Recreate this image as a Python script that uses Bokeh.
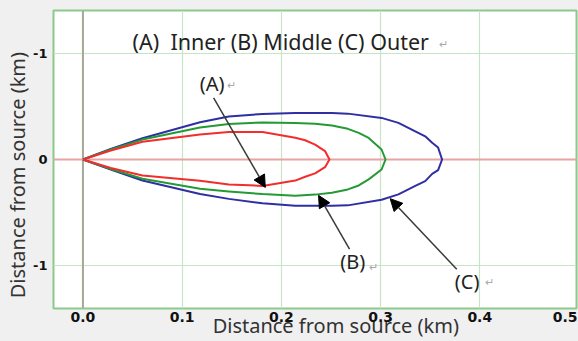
from bokeh.plotting import figure
from bokeh.models import Label, Arrow, NormalHead, Range1d, FixedTicker, ColumnDataSource
from bokeh.embed import file_html
from bokeh.resources import INLINE
from bokeh.core.templates import get_env

# ---- data (km) ----
x_grid = [0.0, 0.1, 0.2, 0.3, 0.4, 0.5]
x_tick_labels = ["0.0", "0.1", "0.2", "0.3", "0.4", "0.5"]
# where each x label is printed (the last one is pulled inside the frame edge, as in the source)
x_label_pos = [0.0, 0.1, 0.2, 0.3, 0.4, 0.486]
y_ticks = [-1, 0, 1]
y_tick_labels = ["-1", "0", "-1"]

# (C) Outer - blue
outer_x_up = [0.0, 0.028, 0.060, 0.118, 0.147, 0.181, 0.214, 0.251, 0.267, 0.301, 0.318, 0.335, 0.345, 0.352, 0.358, 0.362]
outer_y_up = [0.0, 0.100, 0.200, 0.350, 0.405, 0.428, 0.438, 0.438, 0.431, 0.391, 0.344, 0.265, 0.218, 0.157, 0.112, 0.0]
outer_x_lo = [0.0, 0.028, 0.060, 0.118, 0.147, 0.181, 0.214, 0.251, 0.267, 0.301, 0.318, 0.335, 0.345, 0.352, 0.358, 0.362]
outer_y_lo = [0.0, -0.095, -0.197, -0.325, -0.370, -0.412, -0.434, -0.434, -0.431, -0.378, -0.328, -0.248, -0.203, -0.135, -0.100, 0.0]

# (B) Middle - green
middle_x_up = [0.0, 0.028, 0.060, 0.118, 0.147, 0.181, 0.214, 0.234, 0.251, 0.267, 0.278, 0.288, 0.301, 0.305]
middle_y_up = [0.0, 0.094, 0.187, 0.300, 0.333, 0.348, 0.344, 0.337, 0.319, 0.288, 0.250, 0.203, 0.094, 0.0]
middle_x_lo = [0.0, 0.028, 0.060, 0.118, 0.147, 0.181, 0.214, 0.234, 0.251, 0.267, 0.278, 0.288, 0.301, 0.305]
middle_y_lo = [0.0, -0.090, -0.181, -0.275, -0.300, -0.325, -0.340, -0.330, -0.312, -0.281, -0.244, -0.187, -0.094, 0.0]

# (A) Inner - red
inner_x_up = [0.0, 0.028, 0.060, 0.118, 0.147, 0.181, 0.214, 0.224, 0.234, 0.244, 0.2485]
inner_y_up = [0.0, 0.085, 0.166, 0.234, 0.258, 0.258, 0.205, 0.181, 0.140, 0.079, 0.0]
inner_x_lo = [0.0, 0.028, 0.060, 0.118, 0.147, 0.181, 0.214, 0.224, 0.234, 0.244, 0.2485]
inner_y_lo = [0.0, -0.080, -0.150, -0.200, -0.234, -0.248, -0.198, -0.162, -0.130, -0.072, 0.0]

# annotation texts and anchor points
title_text = "(A)\u00a0\u00a0Inner (B) Middle (C) Outer"
title_x, title_y = 0.0500, 1.111
title_ret_x, title_ret_y = 0.363, 1.087
marks = ["(A)", "(B)", "(C)"]
mark_x = [0.1301, 0.2719, 0.3872]
mark_y = [0.712, -0.961, -1.143]
ret_x = [0.1495, 0.2925, 0.4094]
ret_y = [0.708, -1.007, -1.148]
arrow_x0 = [0.1317, 0.2687, 0.3768]
arrow_y0 = [0.578, -0.843, -1.031]
arrow_x1 = [0.1838, 0.2375, 0.3097]
arrow_y1 = [-0.262, -0.337, -0.368]

axis_title = "Distance from source (km)"
NB = "\u00a0"

FONT = "Noto Sans"
TICKFONT = "DejaVu Sans"
BG = "#f0f0f0"

p = figure(width=578, height=341, output_backend="svg", toolbar_location=None,
           x_range=Range1d(-0.0297, 0.4975), y_range=Range1d(-1.40, 1.40),
           min_border_left=53, min_border_right=2, min_border_top=10, min_border_bottom=32,
           background_fill_color="white", border_fill_color=BG,
           outline_line_color="#8cc98c", outline_line_width=2)

# axes
p.xaxis.ticker = FixedTicker(ticks=x_label_pos)
p.xaxis.major_label_overrides = {t: l for t, l in zip(x_label_pos, x_tick_labels)}
p.yaxis.ticker = FixedTicker(ticks=y_ticks)
p.yaxis.major_label_overrides = {t: l for t, l in zip(y_ticks, y_tick_labels)}
for ax in (p.xaxis[0], p.yaxis[0]):
    ax.axis_line_color = None
    ax.major_tick_line_color = None
    ax.minor_tick_line_color = None
    ax.major_tick_out = 0
    ax.major_tick_in = 0
    ax.minor_tick_out = 0
    ax.minor_tick_in = 0
    ax.major_label_text_font = TICKFONT
    ax.major_label_text_font_style = "bold"
    ax.major_label_text_color = "#111111"
    ax.axis_label_text_font = FONT
    ax.axis_label_text_font_style = "normal"
    ax.axis_label_text_color = "#333333"
    ax.axis_label_text_font_size = "20px"
# the reference titles sit off-centre; pad with no-break spaces to shift them
p.xaxis.axis_label = NB * 8 + axis_title
p.yaxis.axis_label = axis_title + NB * 6
p.xaxis.major_label_text_font_size = "14px"
p.yaxis.major_label_text_font_size = "13px"
p.xaxis.major_label_standoff = 3
p.xaxis.axis_label_standoff = -13
p.yaxis.major_label_standoff = 6
p.yaxis.axis_label_standoff = -1

# grid
p.xgrid.ticker = FixedTicker(ticks=x_grid)
p.ygrid.ticker = FixedTicker(ticks=y_ticks)
p.grid.grid_line_color = "#c6e4c6"
p.grid.grid_line_width = 1.2

# zero lines
p.line([0, 0], [-1.40, 1.40], line_color="#a8a898", line_width=2)
p.line([-0.0297, 0.4975], [0, 0], line_color="#e6a4a4", line_width=2)

# plume contours
for xu, yu, xl, yl, col in [
    (outer_x_up, outer_y_up, outer_x_lo, outer_y_lo, "#2f2fa3"),
    (middle_x_up, middle_y_up, middle_x_lo, middle_y_lo, "#249a34"),
    (inner_x_up, inner_y_up, inner_x_lo, inner_y_lo, "#f42c2c"),
]:
    p.line(xu + xl[::-1], yu + yl[::-1], line_color=col, line_width=2, line_join="round")

# arrows
asrc = ColumnDataSource(dict(x0=arrow_x0, y0=arrow_y0, x1=arrow_x1, y1=arrow_y1))
p.add_layout(Arrow(end=NormalHead(size=12, fill_color="black", line_color="black"),
                   x_start="x0", y_start="y0", x_end="x1", y_end="y1",
                   line_color="#3a3a3a", line_width=1.5, source=asrc))

# texts
p.add_layout(Label(x=title_x, y=title_y, text=title_text, text_font=FONT,
                   text_font_size="21.5px", text_color="#222222", text_baseline="middle"))
p.add_layout(Label(x=title_ret_x, y=title_ret_y, text="\u21b5", text_font=FONT,
                   text_font_size="11px", text_color="#a8a8a8", text_align="center",
                   text_baseline="middle"))
for t, x, y, rx, ry in zip(marks, mark_x, mark_y, ret_x, ret_y):
    p.add_layout(Label(x=x, y=y, text=t, text_font=FONT, text_font_size="20px",
                       text_color="#222222", text_align="center", text_baseline="middle"))
    p.add_layout(Label(x=rx, y=ry, text="\u21b5", text_font=FONT, text_font_size="11px",
                       text_color="#a8a8a8", text_align="center", text_baseline="middle"))

tmpl = get_env().from_string(
    '{% extends "file.html" %}{% block postamble %}<style>html,body{background:#f0f0f0;}</style>{% endblock %}'
)
open("out.html", "w").write(file_html(p, INLINE, template=tmpl))
